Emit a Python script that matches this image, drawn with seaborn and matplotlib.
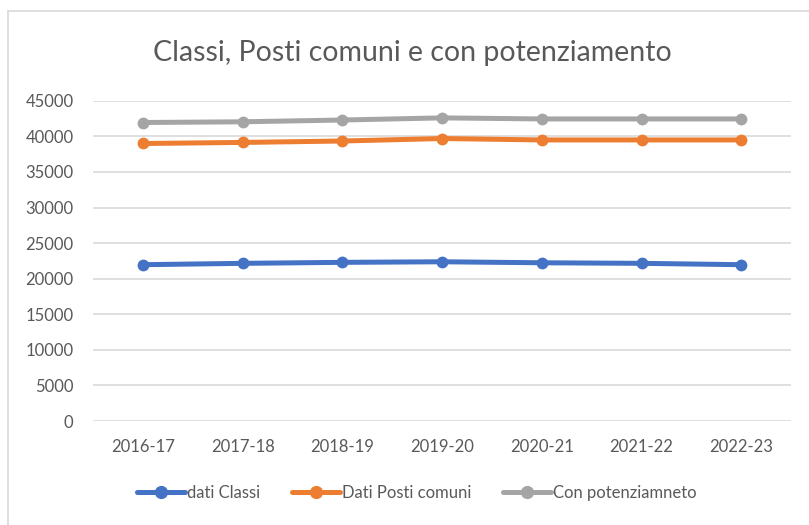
import pandas as pd
import matplotlib.pyplot as plt
import seaborn as sns
from matplotlib.lines import Line2D

# dati
anni = ['2016-17', '2017-18', '2018-19', '2019-20', '2020-21', '2021-22', '2022-23']
dati_classi = [21970, 22160, 22300, 22380, 22240, 22160, 21970]
posti_comuni = [39000, 39150, 39350, 39700, 39500, 39500, 39500]
con_potenziamento = [41950, 42050, 42300, 42600, 42450, 42450, 42450]
serie = ['dati Classi', 'Dati Posti comuni', 'Con potenziamneto']
colori = ['#4472C4', '#ED7D31', '#A5A5A5']

df = pd.DataFrame({'anno': anni * 3,
                   'valore': dati_classi + posti_comuni + con_potenziamento,
                   'serie': [s for s in serie for _ in anni]})

sns.set_style('white')
plt.rcParams['font.family'] = ['Lato', 'DejaVu Sans']

fig = plt.figure(figsize=(8.09, 5.25), dpi=100)
ax = fig.add_axes([0.115, 0.198, 0.863, 0.610])

sns.lineplot(data=df, x='anno', y='valore', hue='serie', palette=colori,
             marker='o', markersize=8.5, markeredgewidth=0, linewidth=3.6,
             sort=False, legend=False, ax=ax)

ax.set_xlim(-0.5, 6.5)
ax.set_ylim(0, 45000)
ax.set_yticks(range(0, 45001, 5000))
ax.grid(axis='y', color='#D9D9D9', linewidth=1.2)
ax.set_axisbelow(True)
sns.despine(ax=ax, left=True, bottom=True)
ax.tick_params(axis='both', length=0, labelsize=12, labelcolor='#595959')
ax.tick_params(axis='y', pad=14)
ax.tick_params(axis='x', pad=13)
ax.set_xlabel('')
ax.set_ylabel('')

fig.text(0.51, 0.90, 'Classi, Posti comuni e con potenziamento',
         ha='center', va='center', fontsize=20.5, color='#595959')

maniglie = [Line2D([0], [0], color=c, linewidth=3.6, marker='o', markersize=8.5)
            for c in colori]
fig.legend(maniglie, serie, loc='center', bbox_to_anchor=(0.515, 0.061),
           ncol=3, frameon=False, fontsize=12, labelcolor='#595959',
           handlelength=2.9, handletextpad=0.1, columnspacing=1.9)

# cornice del grafico (solo bordo sinistro e superiore visibili)
fig.add_artist(Line2D([0.010, 0.010], [0.0, 0.979], color='#D9D9D9', linewidth=1.2))
fig.add_artist(Line2D([0.010, 1.0], [0.979, 0.979], color='#D9D9D9', linewidth=1.2))

fig.savefig('out.png', dpi=100)
